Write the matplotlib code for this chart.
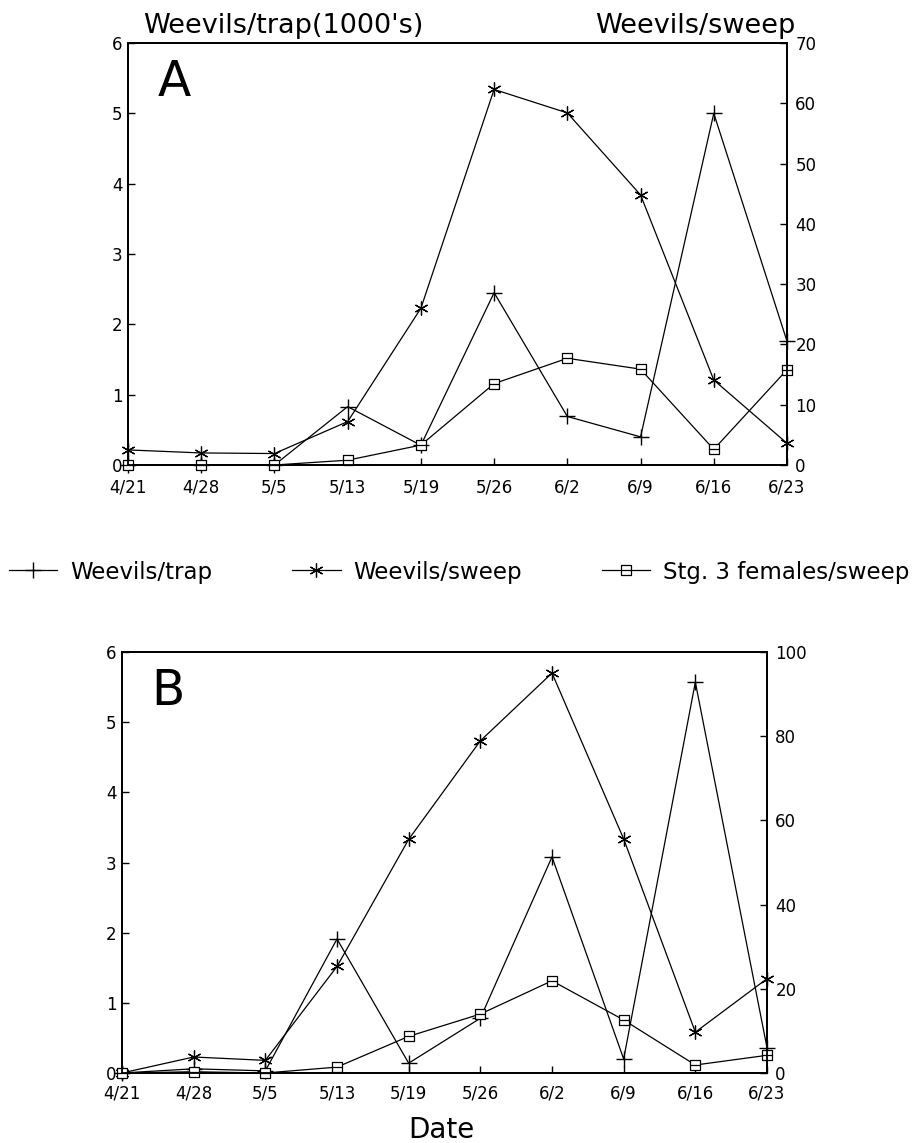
##########################################################
# Alfalfa weevil counts: trap catches (1000's) and
# sweep net counts, two sites (A and B), spring season
##########################################################

import matplotlib
matplotlib.use('Agg')
import matplotlib.pyplot as plt
from matplotlib.path import Path

plt.rcParams['font.family'] = ['DejaVu Sans']

# SAMPLING DATES
dates = ['4/21', '4/28', '5/5', '5/13', '5/19', '5/26', '6/2', '6/9', '6/16', '6/23']

# PANEL A (trap on left axis in 1000's, sweeps on right axis)
A_trap = [0, 0, 0, 0.83, 0.28, 2.45, 0.69, 0.40, 5.0, 1.76]
A_sweep = [2.5, 2.0, 1.9, 7.2, 26, 62.3, 58.4, 44.8, 14.1, 3.6]
A_stg3 = [0, 0, 0, 0.8, 3.3, 13.5, 17.7, 15.9, 2.6, 15.8]

# PANEL B
B_trap = [0, 0.06, 0.03, 1.91, 0.14, 0.78, 3.08, 0.2, 5.57, 0.36]
B_sweep = [0, 3.8, 3.0, 25.3, 55.5, 78.9, 95.0, 55.6, 9.7, 22.4]
B_stg3 = [0, 0.3, 0, 1.4, 8.7, 14.0, 21.9, 12.6, 1.9, 4.2]

left_ticks = [0, 1, 2, 3, 4, 5, 6]
A_right_ticks = [0, 10, 20, 30, 40, 50, 60, 70]
B_right_ticks = [0, 20, 40, 60, 80, 100]

# markers: asterisk and a square with a bar through it
star = (6, 2, 0)
boxbar = Path([(-1, -1), (1, -1), (1, 1), (-1, 1), (-1, -1), (-1, 0), (1, 0)],
              [Path.MOVETO, Path.LINETO, Path.LINETO, Path.LINETO, Path.LINETO,
               Path.MOVETO, Path.LINETO])

x = list(range(len(dates)))


def panel(rect, trap, sweep, stg3, rticks, letter, xpad):
    ax = fig.add_axes(rect)
    ax2 = ax.twinx()
    l1, = ax.plot(x, trap, color='black', lw=0.9, marker='+', ms=11, mew=1.0,
                  clip_on=False)
    l2, = ax2.plot(x, sweep, color='black', lw=0.9, marker=star, ms=10, mew=0.9,
                   clip_on=False)
    l3, = ax2.plot(x, stg3, color='black', lw=0.9, marker=boxbar, ms=7,
                   mew=0.9, mfc='white', clip_on=False)
    ax.set_xlim(0, 9)
    ax.set_ylim(0, 6)
    ax2.set_ylim(0, rticks[-1])
    ax.set_xticks(x)
    ax.set_xticklabels(dates)
    ax.set_yticks(left_ticks)
    ax2.set_yticks(rticks)
    ax.tick_params(axis='y', direction='in', length=5, width=1, labelsize=12, pad=4)
    ax.tick_params(axis='x', direction='in', length=5, width=1, labelsize=12, pad=xpad)
    ax2.tick_params(axis='y', direction='in', length=5, width=1, labelsize=12, pad=6)
    for a in (ax, ax2):
        for s in a.spines.values():
            s.set_linewidth(1.3)
    ax.text(0.045, 0.875, letter, transform=ax.transAxes, fontsize=35,
            va='baseline', ha='left')
    return l1, l2, l3


fig = plt.figure(figsize=(9.24, 11.43), dpi=100)

# ----- PANEL A
lines = panel([128/924, 1-465/1143, 659/924, 422/1143],
              A_trap, A_sweep, A_stg3, A_right_ticks, 'A', 10)
fig.text(143/924, 1-33/1143, "Weevils/trap(1000's)", fontsize=19.5, va='baseline')
fig.text(795/924, 1-33/1143, 'Weevils/sweep', fontsize=19.5, va='baseline', ha='right')

# ----- PANEL B
panel([122/924, 1-1073/1143, 645/924, 421/1143],
      B_trap, B_sweep, B_stg3, B_right_ticks, 'B', 8)
fig.text(441/924, 1-1138/1143, 'Date', fontsize=20, va='baseline', ha='center')

# ----- LEGEND between the panels
fig.legend(lines, ['Weevils/trap', 'Weevils/sweep', 'Stg. 3 females/sweep'],
           loc='center', bbox_to_anchor=(0.497, 1-572/1143), ncol=3, frameon=False,
           fontsize=16.5, handlelength=2.1, handletextpad=0.55, columnspacing=3.5)

fig.savefig('out.png', dpi=100)
